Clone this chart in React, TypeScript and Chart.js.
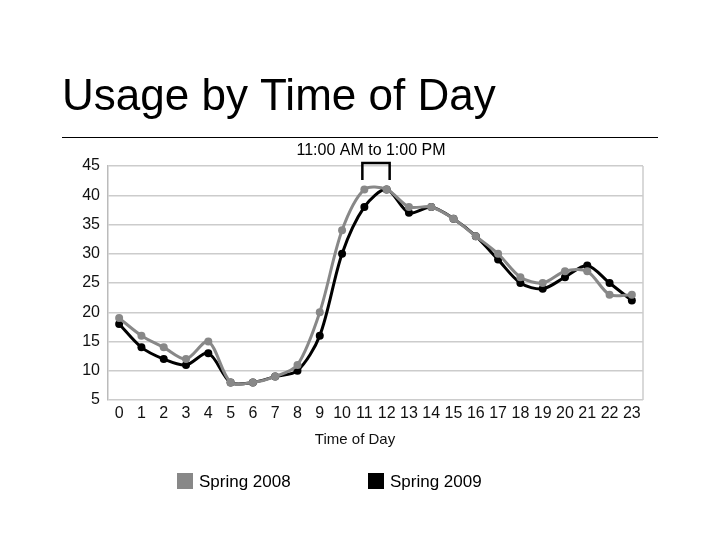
import React, { useEffect, useRef } from "react";
import { Chart, registerables } from "chart.js";

Chart.register(...registerables);

const hours = ["0","1","2","3","4","5","6","7","8","9","10","11","12","13","14","15","16","17","18","19","20","21","22","23"];
const spring2008 = [19, 16, 14, 12, 15, 8, 8, 9, 11, 20, 34, 41, 41, 38, 38, 36, 33, 30, 26, 25, 27, 27, 23, 23];
const spring2009 = [18, 14, 12, 11, 13, 8, 8, 9, 10, 16, 30, 38, 41, 37, 38, 36, 33, 29, 25, 24, 26, 28, 25, 22];
const seriesNames = ["Spring 2008", "Spring 2009"];
const seriesColors = ["#888888", "#000000"];
const titleText = "Usage by Time of Day";
const annotationText = "11:00 AM to 1:00 PM";
const xTitle = "Time of Day";

const FONT = "'Liberation Sans', Arial, sans-serif";

const decor = {
  id: "decor",
  afterDraw(chart: any) {
    const ctx = chart.ctx;
    const area = chart.chartArea;
    const x = chart.scales.x;
    ctx.save();
    // title
    ctx.fillStyle = "#000";
    ctx.font = `44px ${FONT}`;
    ctx.textAlign = "left";
    ctx.textBaseline = "alphabetic";
    ctx.fillText(titleText, 62, 110);
    // rule
    ctx.strokeStyle = "#000";
    ctx.lineWidth = 1;
    ctx.beginPath();
    ctx.moveTo(62, 137.5);
    ctx.lineTo(658, 137.5);
    ctx.stroke();
    // right border of plot
    ctx.strokeStyle = "#cccccc";
    ctx.lineWidth = 1.5;
    ctx.beginPath();
    ctx.moveTo(area.right, area.top);
    ctx.lineTo(area.right, area.bottom);
    ctx.stroke();
    // annotation
    ctx.fillStyle = "#000";
    ctx.font = `16px ${FONT}`;
    ctx.textAlign = "center";
    ctx.textBaseline = "middle";
    const x11 = x.getPixelForValue(11);
    const x12 = x.getPixelForValue(12);
    ctx.fillText(annotationText, 371, 151);
    ctx.strokeStyle = "#000";
    ctx.lineWidth = 2.5;
    ctx.beginPath();
    ctx.moveTo(x11 - 2, 180);
    ctx.lineTo(x11 - 2, 163);
    ctx.lineTo(x12 + 3, 163);
    ctx.lineTo(x12 + 3, 180);
    ctx.stroke();
    // x title
    ctx.font = `15px ${FONT}`;
    ctx.fillStyle = "#111";
    ctx.fillText(xTitle, 355, 440);
    // legend
    const legendX = [177, 368];
    ctx.font = `17px ${FONT}`;
    ctx.textAlign = "left";
    for (let i = 0; i < 2; i++) {
      ctx.fillStyle = seriesColors[i];
      ctx.fillRect(legendX[i], 473, 16, 16);
      ctx.fillStyle = "#000";
      ctx.fillText(seriesNames[i], legendX[i] + 22, 482);
    }
    ctx.restore();
  },
};

export default function App() {
  const ref = useRef<HTMLCanvasElement>(null);
  useEffect(() => {
    if (!ref.current) return;
    const chart = new Chart(ref.current, {
      type: "line",
      data: {
        labels: hours,
        datasets: [
          {
            label: seriesNames[0],
            data: spring2008,
            borderColor: seriesColors[0],
            backgroundColor: seriesColors[0],
            borderWidth: 3,
            pointRadius: 4,
            pointBorderWidth: 0,
            tension: 0.3,
          },
          {
            label: seriesNames[1],
            data: spring2009,
            borderColor: seriesColors[1],
            backgroundColor: seriesColors[1],
            borderWidth: 3,
            pointRadius: 4,
            pointBorderWidth: 0,
            tension: 0.3,
          },
        ],
      },
      options: {
        animation: false,
        responsive: false,
        maintainAspectRatio: false,
        layout: { padding: { left: 60, right: 77, top: 166, bottom: 0 } },
        plugins: { legend: { display: false }, tooltip: { enabled: false }, title: { display: false } },
        scales: {
          x: {
            offset: true,
            grid: { display: false, drawTicks: false },
            border: { display: false },
            ticks: { color: "#111", font: { size: 16, family: FONT }, padding: 4, maxRotation: 0, autoSkip: false },
            afterFit(scale: any) { scale.height = 140; },
          },
          y: {
            min: 5,
            max: 45,
            ticks: { stepSize: 5, color: "#111", font: { size: 16, family: FONT }, padding: 8 },
            grid: { color: "#cccccc", lineWidth: 1.5, drawTicks: false },
            border: { color: "#bbbbbb", width: 1.5 },
            afterFit(scale: any) { scale.width = 48; },
          },
        },
      },
      plugins: [decor],
    });
    return () => chart.destroy();
  }, []);
  return (
    <div style={{ position: "fixed", left: 0, top: 0, width: 720, height: 540, background: "#fff" }}>
      <canvas ref={ref} width={720} height={540} />
    </div>
  );
}
